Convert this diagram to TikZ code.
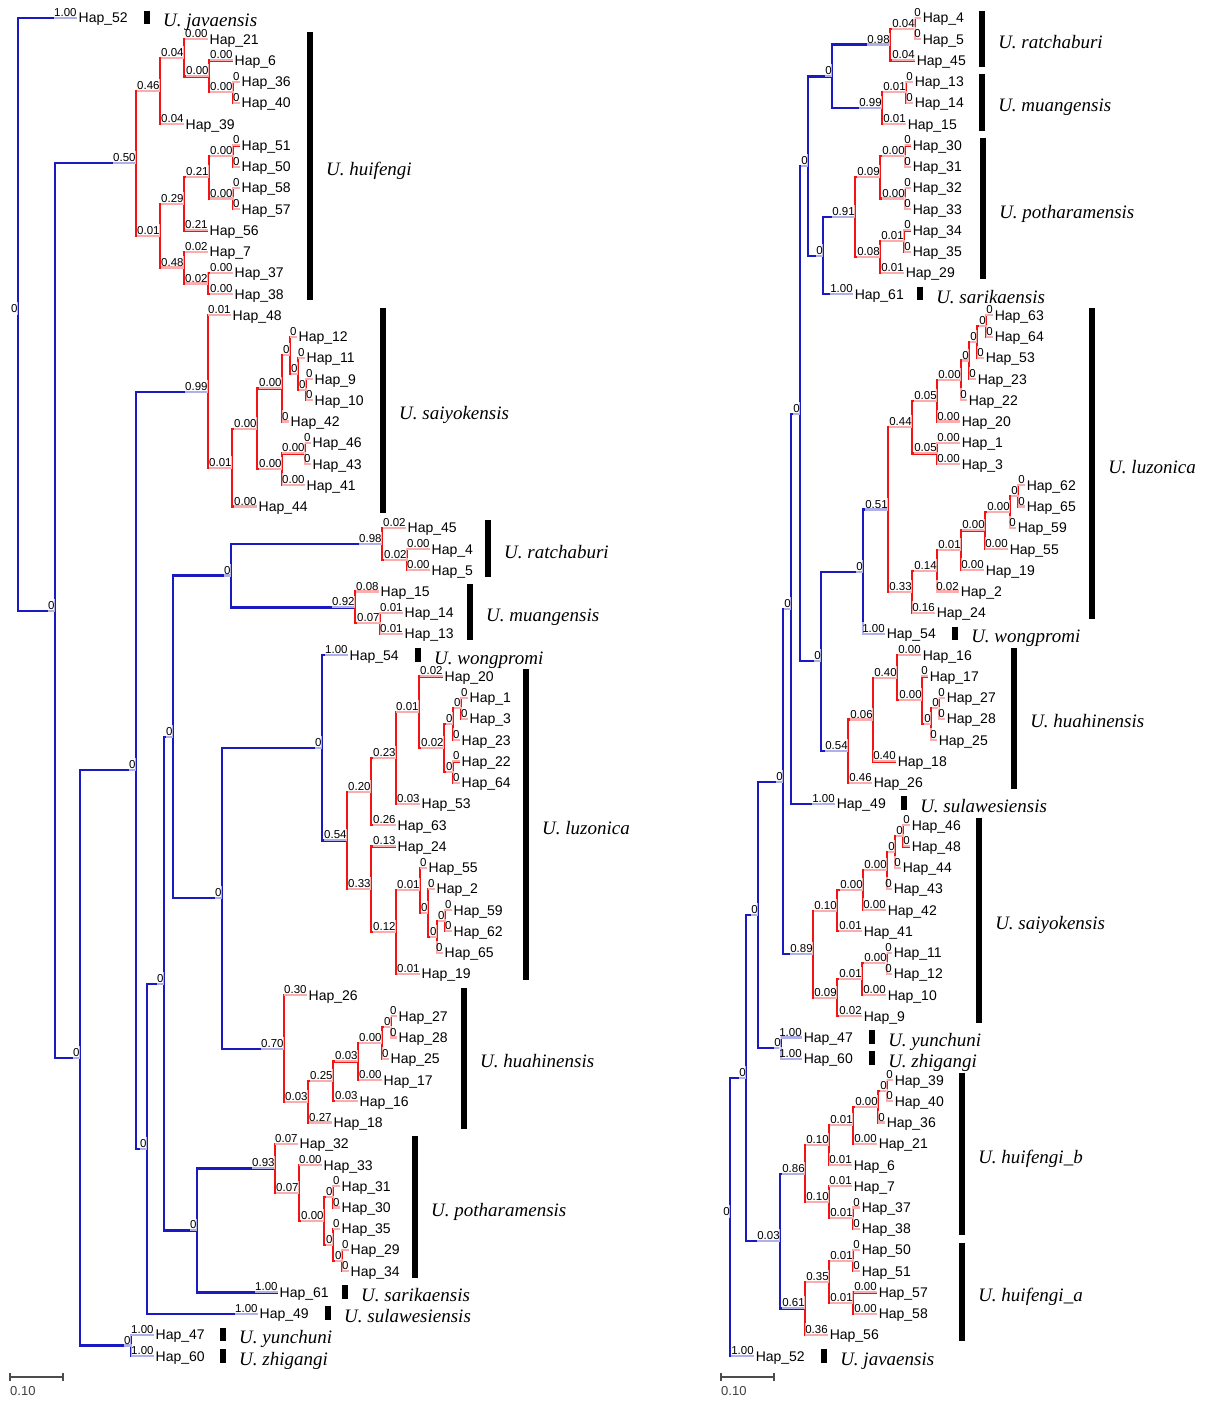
\documentclass[tikz,border=0pt]{standalone}
\usepackage{fontspec}
\setmainfont{Liberation Serif}
\setsansfont{Liberation Sans}
\usepackage{xcolor}
\usepackage{tikz}

\definecolor{treeblue}{RGB}{26,26,196}
\definecolor{treered}{RGB}{245,18,18}

% tips: number/x/row/value
\newcommand{\lefttips}{52/77/0/1.00, 21/208/1/0.00, 6/233/2/0.00, 36/240/3/0, 40/240/4/0, 39/184/5/0.04, 51/240/6/0, 50/240/7/0, 58/240/8/0, 57/240/9/0, 56/208/10/0.21, 7/208/11/0.02, 37/233/12/0.00, 38/233/13/0.00, 48/231/14/0.01, 12/297/15/0, 11/305/16/0, 9/313/17/0, 10/313/18/0, 42/289/19/0, 46/311/20/0, 43/311/21/0, 41/305/22/0.00, 44/257/23/0.00, 45/406/24/0.02, 4/430/25/0.00, 5/430/26/0.00, 15/379/27/0.08, 14/403/28/0.01, 13/403/29/0.01, 54/348/30/1.00, 20/443/31/0.02, 1/468/32/0, 3/468/33/0, 23/460/34/0, 22/460/35/0, 64/460/36/0, 53/420/37/0.03, 63/396/38/0.26, 24/396/39/0.13, 55/427/40/0, 2/435/41/0, 59/452/42/0, 62/452/43/0, 65/443/44/0, 19/420/45/0.01, 26/307/46/0.30, 27/397/47/0, 28/397/48/0, 25/389/49/0, 17/382/50/0.00, 16/358/51/0.03, 18/332/52/0.27, 32/298/53/0.07, 33/322/54/0.00, 31/340/55/0, 30/340/56/0, 35/340/57/0, 29/349/58/0, 34/349/59/0, 61/278/60/1.00, 49/258/61/1.00, 47/154/62/1.00, 60/154/63/1.00}

\newcommand{\righttips}{4/921/0/0, 5/921/1/0, 45/915/2/0.04, 13/913/3/0, 14/913/4/0, 15/906/5/0.01, 30/911/6/0, 31/911/7/0, 32/911/8/0, 33/911/9/0, 34/911/10/0, 35/911/11/0, 29/904/12/0.01, 61/853/13/1.00, 63/993/14/0, 64/993/15/0, 53/984/16/0, 23/976/17/0, 22/967/18/0, 20/960/19/0.00, 1/960/20/0.00, 3/960/21/0.00, 62/1025/22/0, 65/1025/23/0, 59/1016/24/0, 55/1008/25/0.00, 19/984/26/0.00, 2/959/27/0.02, 24/935/28/0.16, 54/885/29/1.00, 16/921/30/0.00, 17/928/31/0, 27/945/32/0, 28/945/33/0, 25/937/34/0, 18/896/35/0.40, 26/872/36/0.46, 49/835/37/1.00, 46/910/38/0, 48/910/39/0, 44/901/40/0, 43/892/41/0, 42/886/42/0.00, 41/862/43/0.01, 11/892/44/0, 12/892/45/0, 10/886/46/0.00, 9/862/47/0.02, 47/802/48/1.00, 60/802/49/1.00, 39/893/50/0, 40/893/51/0, 36/885/52/0, 21/877/53/0.00, 6/852/54/0.01, 7/852/55/0.01, 37/860/56/0, 38/860/57/0, 50/860/58/0, 51/860/59/0, 57/877/60/0.00, 58/877/61/0.00, 56/828/62/0.36, 52/754/63/1.00}

% inner nodes: name/x/row/value
\newcommand{\leftnodes}{l-root/18/13.95/0, l-b/55/27.90/0, l-a/136/6.84/0.50, l-a1/160/3.44/0.46, l-a11/184/1.875/0.04, l-a111/209/2.75/0.00, l-a1111/233/3.5/0.00, l-a2/160/10.25/0.01, l-a21/184/8.75/0.29, l-a211/209/7.5/0.21, l-a2111/233/6.5/0.00, l-a2112/233/8.5/0.00, l-a22/184/11.75/0.48, l-a221/208/12.5/0.02, l-c/80/48.96/0, l-d/136/35.41/0, l-s/208/17.59/0.99, l-s1/232/21.17/0.01, l-s11/257/19.34/0.00, l-s111/282/17.44/0.00, l-s1111/290/15.875/0, l-s11111/298/16.75/0, l-s111111/306/17.5/0, l-s112/282/21.25/0.00, l-s1121/305/20.5/0.00, l-i/147/53.23/0, l-h/164/45.46/0, l-g/173/33.84/0, l-e/231/26.25/0, l-rt/382/24.75/0.98, l-rt1/407/25.5/0.02, l-mu/355/27.75/0.92, l-mu1/380/28.5/0.07, l-m/222/41.44/0, l-w/322/34.36/0, l-lu/347/38.72/0.54, l-lu1/371/36.42/0.20, l-lu11/396/34.84/0.23, l-lu111/419/32.69/0.01, l-lu1111/444/34.375/0.02, l-x/453/33.25/0, l-x1/461/32.5/0, l-y/453/35.5/0, l-lu2/371/41.02/0.33, l-lu21/396/43.03/0.12, l-lu211/420/41.06/0.01, l-lu2111/428/42.125/0, l-lu21111/437/43.25/0, l-lu211111/445/42.5/0, l-hu/284/48.52/0.70, l-hu1/308/51.03/0.03, l-hu11/333/50.06/0.25, l-hu111/358/49.125/0.03, l-hu1111/382/48.25/0.00, l-hu11111/391/47.5/0, l-p/197/57.08/0, l-pt/275/54.16/0.93, l-pt1/299/55.31/0.07, l-pt11/324/56.625/0.00, l-pt111/333/55.5/0, l-pt112/333/57.75/0, l-pt1121/342/58.5/0, l-k/131/62.5/0}

\newcommand{\rightnodes}{r-root/730/56.45/0, r-q/746/49.9/0, r-t/758/42.23/0, r-u/783/35.95/0, r-v/791/27.82/0, r-r2/800/18.63/0, r-qq/808/6.97/0, r-e/832/2.75/0, r-rt/890/1.25/0.98, r-rt1/915/0.5/0.04, r-mu/882/4.25/0.99, r-mu1/906/3.5/0.01, r-ps/823/11.19/0, r-pt/855/9.375/0.91, r-pt1/880/7.5/0.09, r-pt11/905/6.5/0.00, r-pt12/905/8.5/0.00, r-pt2/880/11.25/0.08, r-pt21/904/10.5/0.01, r-w/821/30.29/0, r-lw/863/26.07/0, r-lu/888/23.14/0.51, r-lu1/912/19.27/0.44, r-lu11/937/18.03/0.05, r-lu111/961/17.06/0.00, r-lu1111/969/16.125/0, r-lu11111/977/15.25/0, r-lu111111/986/14.5/0, r-lu12/937/20.5/0.05, r-lu2/912/27.02/0.33, r-lu21/937/26.03/0.14, r-lu211/961/25.06/0.01, r-lu2111/985/24.125/0.00, r-lu21111/1010/23.25/0.00, r-lu211111/1018/22.5/0, r-hu/848/34.52/0.54, r-hu1/873/33.03/0.06, r-hu11/897/31.06/0.40, r-hu111/922/32.125/0.00, r-hu1111/931/33.25/0, r-hu11111/939/32.5/0, r-sy/813/44.08/0.89, r-sy1/837/42.03/0.10, r-sy11/863/41.06/0.00, r-sy111/887/40.125/0.00, r-sy1111/895/39.25/0, r-sy11111/903/38.5/0, r-sy2/837/46.125/0.09, r-sy21/862/45.25/0.01, r-sy211/887/44.5/0.00, r-k/781/48.5/0, r-hf/780/57.58/0.03, r-hb/805/54.41/0.86, r-hb1/829/53.06/0.10, r-hb11/853/52.125/0.01, r-hb111/878/51.25/0.00, r-hb1111/887/50.5/0, r-hb2/829/55.75/0.10, r-hb21/853/56.5/0.01, r-ha/805/60.75/0.61, r-ha1/829/59.5/0.35, r-ha11/853/58.5/0.01, r-ha12/853/60.5/0.01}

% branches: parent/child
\newcommand{\leftblue}{l-root/L52, l-root/l-b, l-b/l-a, l-b/l-c, l-c/l-d, l-c/l-k, l-k/L47, l-k/L60, l-d/l-s, l-d/l-i, l-i/l-h, l-i/L49, l-h/l-g, l-h/l-p, l-g/l-e, l-g/l-m, l-e/l-rt, l-e/l-mu, l-m/l-w, l-m/l-hu, l-w/L54, l-w/l-lu, l-p/l-pt, l-p/L61}

\newcommand{\leftred}{l-a/l-a1, l-a/l-a2, l-a1/l-a11, l-a1/L39, l-a11/L21, l-a11/l-a111, l-a111/L6, l-a111/l-a1111, l-a1111/L36, l-a1111/L40, l-a2/l-a21, l-a2/l-a22, l-a21/l-a211, l-a21/L56, l-a211/l-a2111, l-a211/l-a2112, l-a2111/L51, l-a2111/L50, l-a2112/L58, l-a2112/L57, l-a22/L7, l-a22/l-a221, l-a221/L37, l-a221/L38, l-s/L48, l-s/l-s1, l-s1/l-s11, l-s1/L44, l-s11/l-s111, l-s11/l-s112, l-s111/l-s1111, l-s111/L42, l-s1111/L12, l-s1111/l-s11111, l-s11111/L11, l-s11111/l-s111111, l-s111111/L9, l-s111111/L10, l-s112/l-s1121, l-s112/L41, l-s1121/L46, l-s1121/L43, l-rt/L45, l-rt/l-rt1, l-rt1/L4, l-rt1/L5, l-mu/L15, l-mu/l-mu1, l-mu1/L14, l-mu1/L13, l-lu/l-lu1, l-lu/l-lu2, l-lu1/l-lu11, l-lu1/L63, l-lu11/l-lu111, l-lu11/L53, l-lu111/L20, l-lu111/l-lu1111, l-lu1111/l-x, l-lu1111/l-y, l-x/l-x1, l-x/L23, l-x1/L1, l-x1/L3, l-y/L22, l-y/L64, l-lu2/L24, l-lu2/l-lu21, l-lu21/l-lu211, l-lu21/L19, l-lu211/L55, l-lu211/l-lu2111, l-lu2111/L2, l-lu2111/l-lu21111, l-lu21111/l-lu211111, l-lu21111/L65, l-lu211111/L59, l-lu211111/L62, l-hu/L26, l-hu/l-hu1, l-hu1/l-hu11, l-hu1/L18, l-hu11/l-hu111, l-hu11/L16, l-hu111/l-hu1111, l-hu111/L17, l-hu1111/l-hu11111, l-hu1111/L25, l-hu11111/L27, l-hu11111/L28, l-pt/L32, l-pt/l-pt1, l-pt1/L33, l-pt1/l-pt11, l-pt11/l-pt111, l-pt11/l-pt112, l-pt111/L31, l-pt111/L30, l-pt112/L35, l-pt112/l-pt1121, l-pt1121/L29, l-pt1121/L34}

\newcommand{\rightblue}{r-root/r-q, r-root/R52, r-q/r-t, r-q/r-hf, r-t/r-u, r-t/r-k, r-k/R47, r-k/R60, r-u/r-v, r-u/r-sy, r-v/r-r2, r-v/R49, r-r2/r-qq, r-r2/r-w, r-qq/r-e, r-qq/r-ps, r-e/r-rt, r-e/r-mu, r-ps/r-pt, r-ps/R61, r-w/r-lw, r-w/r-hu, r-lw/r-lu, r-lw/R54, r-hf/r-hb, r-hf/r-ha}

\newcommand{\rightred}{r-rt/r-rt1, r-rt/R45, r-rt1/R4, r-rt1/R5, r-mu/r-mu1, r-mu/R15, r-mu1/R13, r-mu1/R14, r-pt/r-pt1, r-pt/r-pt2, r-pt1/r-pt11, r-pt1/r-pt12, r-pt11/R30, r-pt11/R31, r-pt12/R32, r-pt12/R33, r-pt2/r-pt21, r-pt2/R29, r-pt21/R34, r-pt21/R35, r-lu/r-lu1, r-lu/r-lu2, r-lu1/r-lu11, r-lu1/r-lu12, r-lu11/r-lu111, r-lu11/R20, r-lu111/r-lu1111, r-lu111/R22, r-lu1111/r-lu11111, r-lu1111/R23, r-lu11111/r-lu111111, r-lu11111/R53, r-lu111111/R63, r-lu111111/R64, r-lu12/R1, r-lu12/R3, r-lu2/r-lu21, r-lu2/R24, r-lu21/r-lu211, r-lu21/R2, r-lu211/r-lu2111, r-lu211/R19, r-lu2111/r-lu21111, r-lu2111/R55, r-lu21111/r-lu211111, r-lu21111/R59, r-lu211111/R62, r-lu211111/R65, r-hu/r-hu1, r-hu/R26, r-hu1/r-hu11, r-hu1/R18, r-hu11/R16, r-hu11/r-hu111, r-hu111/R17, r-hu111/r-hu1111, r-hu1111/r-hu11111, r-hu1111/R25, r-hu11111/R27, r-hu11111/R28, r-sy/r-sy1, r-sy/r-sy2, r-sy1/r-sy11, r-sy1/R41, r-sy11/r-sy111, r-sy11/R42, r-sy111/r-sy1111, r-sy111/R43, r-sy1111/r-sy11111, r-sy1111/R44, r-sy11111/R46, r-sy11111/R48, r-sy2/r-sy21, r-sy2/R9, r-sy21/r-sy211, r-sy21/R10, r-sy211/R11, r-sy211/R12, r-hb/r-hb1, r-hb/r-hb2, r-hb1/r-hb11, r-hb1/R6, r-hb11/r-hb111, r-hb11/R21, r-hb111/r-hb1111, r-hb111/R36, r-hb1111/R39, r-hb1111/R40, r-hb2/R7, r-hb2/r-hb21, r-hb21/R37, r-hb21/R38, r-ha/r-ha1, r-ha/R56, r-ha1/r-ha11, r-ha1/r-ha12, r-ha11/R50, r-ha11/R51, r-ha12/R57, r-ha12/R58}

% species bars: x/first row/last row/name
\newcommand{\leftspecies}{147/0/0/U. javaensis, 310/1/13/U. huifengi, 383/14/23/U. saiyokensis, 488/24/26/U. ratchaburi, 470/27/29/U. muangensis, 418/30/30/U. wongpromi, 526/31/45/U. luzonica, 464/46/52/U. huahinensis, 415/53/59/U. potharamensis, 345/60/60/U. sarikaensis, 328/61/61/U. sulawesiensis, 223/62/62/U. yunchuni, 223/63/63/U. zhigangi}

\newcommand{\rightspecies}{982/0/2/U. ratchaburi, 982/3/5/U. muangensis, 983/6/12/U. potharamensis, 920/13/13/U. sarikaensis, 1092/14/28/U. luzonica, 955/29/29/U. wongpromi, 1014/30/36/U. huahinensis, 904/37/37/U. sulawesiensis, 979/38/47/U. saiyokensis, 872/48/48/U. yunchuni, 872/49/49/U. zhigangi, 962/50/57/U. huifengi\_b, 962/58/62/U. huifengi\_a, 824/63/63/U. javaensis}

\begin{document}
\begin{tikzpicture}[x=1pt, y=-21.24pt]
    % Define styles
    \tikzstyle{blueline} = [draw=treeblue, line width=2.2pt]
    \tikzstyle{redline} = [draw=treered, line width=2.2pt]
    \tikzstyle{hap} = [anchor=base west, inner sep=0pt, xshift=1.5pt, yshift=-5pt, font=\sffamily\fontsize{14}{16}\selectfont]
    \tikzstyle{val} = [anchor=base east, inner xsep=0.2pt, inner ysep=2.4pt, yshift=1.5pt, fill=white, fill opacity=0.65, text opacity=1, font=\sffamily\fontsize{11.5}{12}\selectfont]
    \tikzstyle{spbar} = [line width=5.5pt]
    \tikzstyle{species} = [anchor=base west, inner sep=0pt, yshift=-9pt, font=\itshape\fontsize{19}{22}\selectfont]
    \tikzstyle{scalebar} = [draw=black!70, line width=1.2pt]
    \tikzstyle{scaletext} = [anchor=west, inner sep=0pt, text=black!75, font=\sffamily\fontsize{13}{14}\selectfont]

    \useasboundingbox (0,-0.847) rectangle (1208,65.11);

    % Nodes
    \foreach \n/\px/\row/\val in \lefttips {\coordinate (L\n) at (\px,\row);}
    \foreach \n/\px/\row/\val in \righttips {\coordinate (R\n) at (\px,\row);}
    \foreach \n/\px/\row/\val in \leftnodes {\coordinate (\n) at (\px,\row);}
    \foreach \n/\px/\row/\val in \rightnodes {\coordinate (\n) at (\px,\row);}

    % Connections
    \foreach \p/\c in \leftblue {\draw[blueline] (\p) |- (\c);}
    \foreach \p/\c in \leftred {\draw[redline] (\p) |- (\c);}
    \foreach \p/\c in \rightblue {\draw[blueline] (\p) |- (\c);}
    \foreach \p/\c in \rightred {\draw[redline] (\p) |- (\c);}

    % Labels
    \foreach \n/\px/\row/\val in \leftnodes {\node[val] (v\n) at (\n) {\val};}
    \foreach \n/\px/\row/\val in \rightnodes {\node[val] (v\n) at (\n) {\val};}
    \foreach \n/\px/\row/\val in \lefttips {
        \node[val] (vL\n) at (L\n) {\val};
        \node[hap] (tL\n) at (L\n) {Hap\_\n};
    }
    \foreach \n/\px/\row/\val in \righttips {
        \node[val] (vR\n) at (R\n) {\val};
        \node[hap] (tR\n) at (R\n) {Hap\_\n};
    }

    % Species
    \foreach \px/\ra/\rb/\sp in \leftspecies {
        \draw[spbar] (\px,{\ra-0.35}) -- (\px,{\rb+0.3});
        \node[species] (spL\ra) at ({\px+16},{(\ra+\rb)/2}) {\sp};
    }
    \foreach \px/\ra/\rb/\sp in \rightspecies {
        \draw[spbar] (\px,{\ra-0.35}) -- (\px,{\rb+0.3});
        \node[species] (spR\ra) at ({\px+16},{(\ra+\rb)/2}) {\sp};
    }

    % Scale bars
    \draw[scalebar] (10,63.8) -- (10,64.16) (10,63.98) -- (63,63.98) (63,63.8) -- (63,64.16);
    \node[scaletext] (scaleL) at (10,64.62) {0.10};
    \draw[scalebar] (721,63.8) -- (721,64.16) (721,63.98) -- (774,63.98) (774,63.8) -- (774,64.16);
    \node[scaletext] (scaleR) at (721,64.62) {0.10};
\end{tikzpicture}
\end{document}
